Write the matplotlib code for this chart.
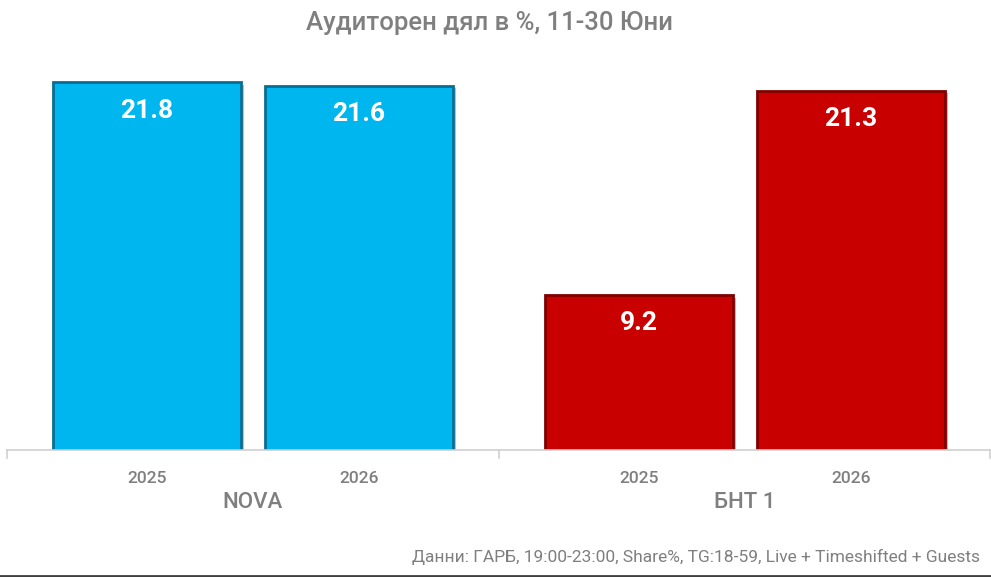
import matplotlib
matplotlib.use("Agg")
import matplotlib.pyplot as plt
import matplotlib.patheffects as pe

plt.rcParams['font.family'] = ['Roboto', 'DejaVu Sans']

# data
channels = ["NOVA", "БНТ 1"]
years = ["2025", "2026", "2025", "2026"]
shares = [21.8, 21.6, 9.2, 21.3]
title = "Аудиторен дял в %, 11-30 Юни"
note = "Данни: ГАРБ, 19:00-23:00, Share%, TG:18-59, Live + Timeshifted + Guests"

# colours
blue = "#00B6EF"
blue_edge = "#0A6E94"
red = "#C80000"
red_edge = "#800000"
grey = "#7F7F7F"

x_pos = [0, 1, 2.32, 3.32]
face = [blue, blue, red, red]
edge = [blue_edge, blue_edge, red_edge, red_edge]

fig = plt.figure(figsize=(9.91, 5.77), dpi=100)
ax = fig.add_axes([7 / 991, 127 / 577, 983 / 991, 405 / 577])

bars = ax.bar(x_pos, shares, width=0.887, color=face, edgecolor=edge, linewidth=2)
for b in bars:
    b.set_path_effects([pe.SimplePatchShadow(offset=(2, -2), alpha=0.3), pe.Normal()])

for x, v in zip(x_pos, shares):
    ax.annotate(f"{v:.1f}", (x, v), xytext=(0, -12), textcoords="offset points",
                ha="center", va="top", color="white", fontsize=19, fontweight="bold")

ax.set_xlim(-0.66, 3.976)
ax.set_ylim(0, 24)

ax.set_yticks([])
for s in ["top", "right", "left"]:
    ax.spines[s].set_visible(False)
ax.spines["bottom"].set_color("#D0D0D0")
ax.spines["bottom"].set_linewidth(1.2)

ax.set_xticks(x_pos)
ax.set_xticklabels(years, color=grey, fontsize=12.5, fontweight="medium")
ax.tick_params(axis="x", length=0, pad=15)

# group separators on the axis line
for sx in [-0.66, 1.66, 3.976]:
    ax.plot([sx, sx], [0, -0.5], color="#D0D0D0", lw=1.2, clip_on=False)

for i, name in enumerate(channels):
    cx = (x_pos[2 * i] + x_pos[2 * i + 1]) / 2
    ax.text(cx, -3.1, name, ha="center", va="center", color=grey, fontsize=16,
            fontweight="medium")

fig.text(0.4935, 1 - 23 / 577, title, ha="center", va="center", color=grey,
         fontsize=18.5, fontweight="medium")
fig.text(980 / 991, 1 - 557 / 577, note, ha="right", va="center", color=grey,
         fontsize=12.5)
fig.add_artist(plt.Line2D([0, 1], [1 / 577, 1 / 577], color="#404040", lw=2))

fig.savefig("out.png", dpi=100)
